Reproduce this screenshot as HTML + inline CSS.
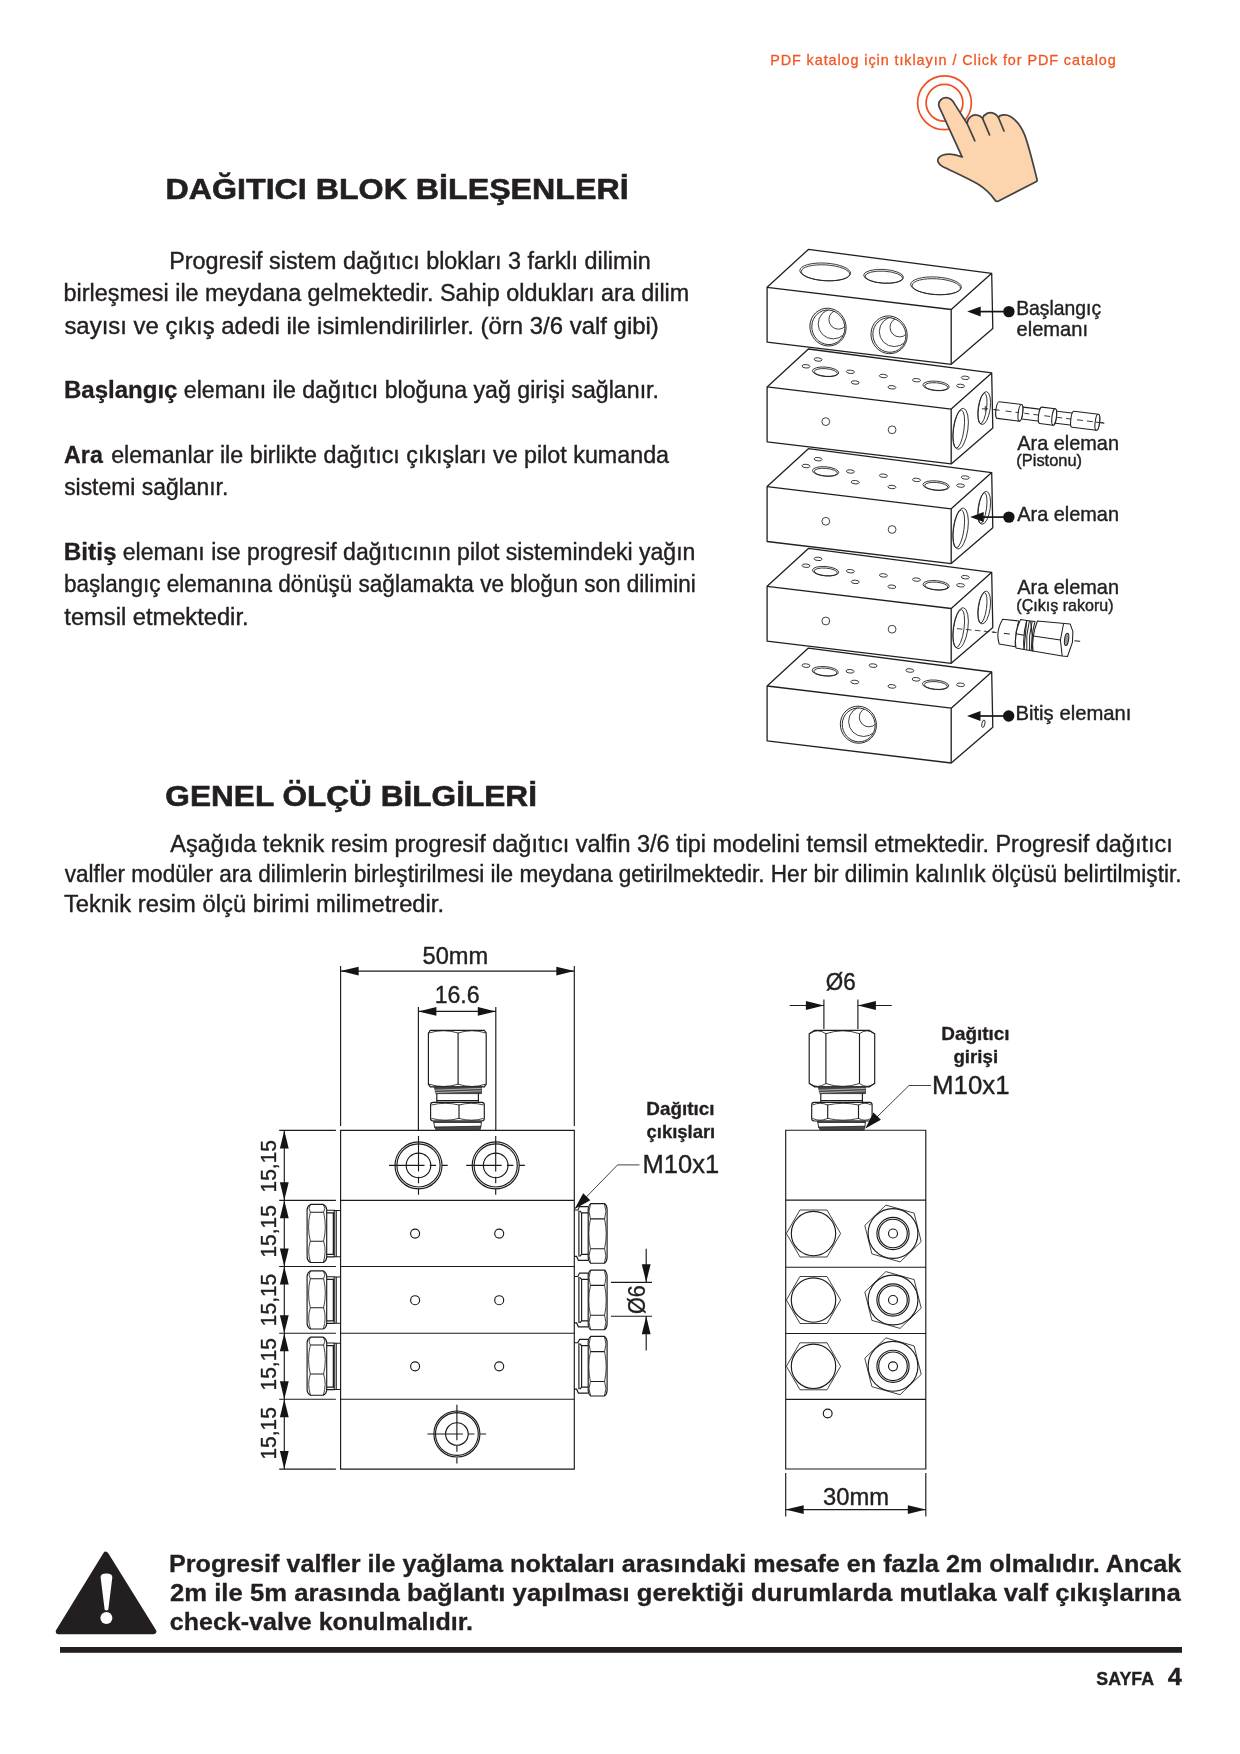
<!DOCTYPE html>
<html lang="tr"><head><meta charset="utf-8"><title>Dağıtıcı Blok Bileşenleri</title>
<style>
html,body{margin:0;padding:0;background:#fff}
body{width:1240px;height:1754px;overflow:hidden;font-family:"Liberation Sans",sans-serif}
svg{display:block;will-change:transform}
svg text{font-family:"Liberation Sans",sans-serif;white-space:pre}
.l{fill:none;stroke:#1c1a1b;stroke-width:1.15}
.m{fill:none;stroke:#231f20;stroke-width:1.3;stroke-linejoin:round}
.t{fill:none;stroke:#231f20;stroke-width:.85}
.w{fill:#fff;stroke:#231f20;stroke-width:1.3;stroke-linejoin:round}
.k{fill:#161314;stroke:none}
</style></head><body>
<svg width="1240" height="1754" viewBox="0 0 1240 1754">
<rect width="1240" height="1754" fill="#fff"/>
<!-- top link text -->
<text x="770.15" y="64.50" font-size="14.4" fill="#f15623" letter-spacing="0.919" stroke="#f15623" stroke-width=".3">PDF katalog için tıklayın / Click for PDF catalog</text>
<!-- headings -->
<text transform="translate(165.51 199.30) scale(1.0593 1)" font-size="30.4" font-weight="700" fill="#231f20" stroke="#231f20" stroke-width=".6">DAĞITICI BLOK BİLEŞENLERİ</text>
<text transform="translate(165.34 806.40) scale(1.0398 1)" font-size="30.4" font-weight="700" fill="#231f20" stroke="#231f20" stroke-width=".6">GENEL ÖLÇÜ BİLGİLERİ</text>
<!-- body paragraph 1 -->
<text transform="translate(169.13 268.60) scale(0.9615 1)" font-size="24.3" fill="#231f20" stroke="#231f20" stroke-width="0.4">Progresif sistem dağıtıcı blokları 3 farklı dilimin</text>
<text transform="translate(63.60 301.20) scale(0.9613 1)" font-size="24.3" fill="#231f20" stroke="#231f20" stroke-width="0.4">birleşmesi ile meydana gelmektedir. Sahip oldukları ara dilim</text>
<text transform="translate(64.40 333.80) scale(0.9851 1)" font-size="24.3" fill="#231f20" stroke="#231f20" stroke-width="0.4">sayısı ve çıkış adedi ile isimlendirilirler. (örn 3/6 valf gibi)</text>
<text transform="translate(63.94 398.20) scale(0.9900 1)" font-size="24.3" font-weight="700" fill="#231f20" stroke="#231f20" stroke-width="0.3">Başlangıç</text>
<text transform="translate(183.77 398.20) scale(0.9537 1)" font-size="24.3" fill="#231f20" stroke="#231f20" stroke-width="0.4">elemanı ile dağıtıcı bloğuna yağ girişi sağlanır.</text>
<text transform="translate(64.12 463.00) scale(0.9552 1)" font-size="24.3" font-weight="700" fill="#231f20" stroke="#231f20" stroke-width="0.3">Ara</text>
<text transform="translate(111.17 463.00) scale(0.9586 1)" font-size="24.3" fill="#231f20" stroke="#231f20" stroke-width="0.4">elemanlar ile birlikte dağıtıcı çıkışları ve pilot kumanda</text>
<text transform="translate(64.13 495.40) scale(0.9426 1)" font-size="24.3" fill="#231f20" stroke="#231f20" stroke-width="0.4">sistemi sağlanır.</text>
<text transform="translate(63.72 560.00) scale(1.0024 1)" font-size="24.3" font-weight="700" fill="#231f20" stroke="#231f20" stroke-width="0.3">Bitiş</text>
<text transform="translate(122.78 560.00) scale(0.9491 1)" font-size="24.3" fill="#231f20" stroke="#231f20" stroke-width="0.4">elemanı ise progresif dağıtıcının pilot sistemindeki yağın</text>
<text transform="translate(63.95 592.30) scale(0.9282 1)" font-size="24.3" fill="#231f20" stroke="#231f20" stroke-width="0.4">başlangıç elemanına dönüşü sağlamakta ve bloğun son dilimini</text>
<text transform="translate(64.34 624.80) scale(0.9747 1)" font-size="24.3" fill="#231f20" stroke="#231f20" stroke-width="0.4">temsil etmektedir.</text>
<!-- body paragraph 2 -->
<text transform="translate(170.30 852.40) scale(0.9619 1)" font-size="24.4" fill="#231f20" stroke="#231f20" stroke-width="0.4">Aşağıda teknik resim progresif dağıtıcı valfin 3/6 tipi modelini temsil etmektedir. Progresif dağıtıcı</text>
<text transform="translate(64.70 881.90) scale(0.9268 1)" font-size="24.4" fill="#231f20" stroke="#231f20" stroke-width="0.4">valfler modüler ara dilimlerin birleştirilmesi ile meydana getirilmektedir. Her bir dilimin kalınlık ölçüsü belirtilmiştir.</text>
<text transform="translate(63.92 911.80) scale(0.9736 1)" font-size="24.4" fill="#231f20" stroke="#231f20" stroke-width="0.4">Teknik resim ölçü birimi milimetredir.</text>
<!-- exploded view labels -->
<text transform="translate(1016.15 315.10) scale(0.9437 1)" font-size="20.5" fill="#231f20" stroke="#231f20" stroke-width="0.4">Başlangıç</text>
<text transform="translate(1016.50 335.80) scale(0.9813 1)" font-size="20.5" fill="#231f20" stroke="#231f20" stroke-width="0.4">elemanı</text>
<text transform="translate(1017.30 449.80) scale(0.9708 1)" font-size="20.5" fill="#231f20" stroke="#231f20" stroke-width="0.4">Ara eleman</text>
<text transform="translate(1016.31 466.10) scale(1.0153 1)" font-size="16.2" fill="#231f20" stroke="#231f20" stroke-width="0.4">(Pistonu)</text>
<text transform="translate(1017.30 521.00) scale(0.9708 1)" font-size="20.5" fill="#231f20" stroke="#231f20" stroke-width="0.4">Ara eleman</text>
<text transform="translate(1017.30 593.90) scale(0.9708 1)" font-size="20.5" fill="#231f20" stroke="#231f20" stroke-width="0.4">Ara eleman</text>
<text transform="translate(1016.34 611.40) scale(0.9924 1)" font-size="16.2" fill="#231f20" stroke="#231f20" stroke-width="0.4">(Çıkış rakoru)</text>
<text transform="translate(1015.48 720.00) scale(0.9888 1)" font-size="20.5" fill="#231f20" stroke="#231f20" stroke-width="0.4">Bitiş elemanı</text>
<!-- dimension texts -->
<text transform="translate(422.55 964.00) scale(0.9778 1)" font-size="24.2" fill="#231f20" stroke="#231f20" stroke-width="0.4">50mm</text>
<text transform="translate(434.67 1002.60) scale(0.9552 1)" font-size="24.2" fill="#231f20" stroke="#231f20" stroke-width="0.4">16.6</text>
<text transform="translate(825.71 989.70) scale(0.9281 1)" font-size="24.2" fill="#231f20" stroke="#231f20" stroke-width="0.4">Ø6</text>
<text transform="translate(823.07 1504.60) scale(0.9822 1)" font-size="24.2" fill="#231f20" stroke="#231f20" stroke-width="0.4">30mm</text>
<text transform="translate(642.56 1173.00) scale(0.9598 1)" font-size="26.6" fill="#231f20" stroke="#231f20" stroke-width="0.4">M10x1</text>
<text transform="translate(932.03 1093.70) scale(0.9716 1)" font-size="26.6" fill="#231f20" stroke="#231f20" stroke-width="0.4">M10x1</text>
<text transform="translate(646.37 1114.80) scale(1.0772 1)" font-size="17.5" font-weight="700" fill="#231f20" stroke="#231f20" stroke-width="0.3">Dağıtıcı</text>
<text transform="translate(646.55 1138.30) scale(1.0545 1)" font-size="17.5" font-weight="700" fill="#231f20" stroke="#231f20" stroke-width="0.3">çıkışları</text>
<text transform="translate(941.37 1039.50) scale(1.0805 1)" font-size="17.5" font-weight="700" fill="#231f20" stroke="#231f20" stroke-width="0.3">Dağıtıcı</text>
<text transform="translate(953.45 1062.80) scale(1.0677 1)" font-size="17.5" font-weight="700" fill="#231f20" stroke="#231f20" stroke-width="0.3">girişi</text>
<text transform="translate(276.40 1192.47) rotate(-90) scale(0.9529 1)" font-size="22.0" fill="#231f20" stroke="#231f20" stroke-width=".35">15,15</text>
<text transform="translate(276.40 1257.57) rotate(-90) scale(0.9529 1)" font-size="22.0" fill="#231f20" stroke="#231f20" stroke-width=".35">15,15</text>
<text transform="translate(276.40 1326.17) rotate(-90) scale(0.9529 1)" font-size="22.0" fill="#231f20" stroke="#231f20" stroke-width=".35">15,15</text>
<text transform="translate(276.40 1390.47) rotate(-90) scale(0.9529 1)" font-size="22.0" fill="#231f20" stroke="#231f20" stroke-width=".35">15,15</text>
<text transform="translate(276.40 1459.57) rotate(-90) scale(0.9529 1)" font-size="22.0" fill="#231f20" stroke="#231f20" stroke-width=".35">15,15</text>
<text transform="translate(645.20 1314.00) rotate(-90) scale(0.8888 1)" font-size="24.2" fill="#231f20" stroke="#231f20" stroke-width=".35">Ø6</text>
<!-- warning -->
<text transform="translate(169.06 1571.70) scale(1.0352 1)" font-size="24.3" font-weight="700" fill="#231f20" stroke="#231f20" stroke-width=".3">Progresif valfler ile yağlama noktaları arasındaki mesafe en fazla 2m olmalıdır. Ancak</text>
<text transform="translate(169.93 1601.00) scale(1.0577 1)" font-size="24.3" font-weight="700" fill="#231f20" stroke="#231f20" stroke-width=".3">2m ile 5m arasında bağlantı yapılması gerektiği durumlarda mutlaka valf çıkışlarına</text>
<text transform="translate(169.82 1630.20) scale(1.0306 1)" font-size="24.3" font-weight="700" fill="#231f20" stroke="#231f20" stroke-width=".3">check-valve konulmalıdır.</text>
<text transform="translate(1096.35 1685.20) scale(1.0177 1)" font-size="17.5" font-weight="700" fill="#231f20" stroke="#231f20" stroke-width=".35">SAYFA</text>
<text transform="translate(1167.82 1685.20) scale(1.0750 1)" font-size="23.6" font-weight="700" fill="#231f20" stroke="#231f20" stroke-width=".35">4</text>
<rect x="60" y="1647" width="1122" height="5.8" fill="#231f20"/>
<path d="M105.8 1554.5 L153.6 1631.5 L58.5 1631.5 Z" fill="#231f20" stroke="#231f20" stroke-width="5.5" stroke-linejoin="round"/>
<path d="M100.6 1577.5 Q100.3 1573.4 106.4 1573.4 Q112.6 1573.4 112.3 1577.5 L108.3 1609.5 Q106.4 1611.5 104.6 1609.5 Z" fill="#fff"/>
<circle cx="106.4" cy="1618" r="6" fill="#fff"/>
<!-- exploded isometric view -->
<g transform="translate(767.1 287.3)">
<path class="w" d="M41.3 -37.9 L224.6 -14.0 L225.7 41.2 L184.1 77.0 L0.0 54.9 L0 0 Z"/>
<path class="m" d="M0 0 L184.1 22.2 L224.6 -14.0 M184.1 22.2 L184.1 77.0"/>
<ellipse class="t" cx="58.1" cy="-15.4" rx="25.4" ry="8.8" transform="rotate(3.5 58.1 -15.4)"/>
<ellipse class="t" cx="58.4" cy="-14.5" rx="24.2" ry="7.9" transform="rotate(3.5 58.4 -14.5)"/>
<ellipse class="t" cx="116.5" cy="-11.0" rx="20" ry="6.9" transform="rotate(3.5 116.5 -11.0)"/>
<ellipse class="t" cx="116.8" cy="-10.1" rx="18.8" ry="6.0" transform="rotate(3.5 116.8 -10.1)"/>
<ellipse class="t" cx="168.9" cy="-1.5" rx="25.4" ry="8.8" transform="rotate(3.5 168.9 -1.5)"/>
<ellipse class="t" cx="169.2" cy="-0.6" rx="24.2" ry="7.9" transform="rotate(3.5 169.2 -0.6)"/>
<clipPath id="cb1"><ellipse cx="60.9" cy="39.8" rx="16.4" ry="17.4" transform="rotate(-20 60.9 39.8)"/></clipPath>
<ellipse class="t" cx="60.9" cy="39.8" rx="18" ry="19" transform="rotate(-20 60.9 39.8)"/>
<ellipse class="t" cx="61.2" cy="40.0" rx="16.4" ry="17.4" transform="rotate(-20 61.2 40.0)"/>
<g clip-path="url(#cb1)"><circle class="t" cx="66.1" cy="36.6" r="15"/><circle class="t" cx="71.4" cy="32.3" r="9.6"/></g>
<clipPath id="cb2"><ellipse cx="122.0" cy="47.5" rx="16.4" ry="17.4" transform="rotate(-20 122.0 47.5)"/></clipPath>
<ellipse class="t" cx="122.0" cy="47.5" rx="18" ry="19" transform="rotate(-20 122.0 47.5)"/>
<ellipse class="t" cx="122.3" cy="47.7" rx="16.4" ry="17.4" transform="rotate(-20 122.3 47.7)"/>
<g clip-path="url(#cb2)"><circle class="t" cx="127.2" cy="44.3" r="15"/><circle class="t" cx="132.5" cy="40.0" r="9.6"/></g>
</g>
<g transform="translate(767.1 386.9)">
<path class="w" d="M41.3 -37.9 L224.6 -14.0 L225.7 41.2 L184.1 77.0 L0.0 54.9 L0 0 Z"/>
<path class="m" d="M0 0 L184.1 22.2 L224.6 -14.0 M184.1 22.2 L184.1 77.0"/>
<ellipse class="t" cx="51.0" cy="-27.4" rx="4.0" ry="1.7" transform="rotate(5 51.0 -27.4)"/>
<ellipse class="t" cx="38.9" cy="-20.6" rx="4.0" ry="1.7" transform="rotate(5 38.9 -20.6)"/>
<ellipse class="t" cx="83.3" cy="-15.1" rx="4.0" ry="1.7" transform="rotate(5 83.3 -15.1)"/>
<ellipse class="t" cx="88.1" cy="-4.4" rx="4.0" ry="1.7" transform="rotate(5 88.1 -4.4)"/>
<ellipse class="t" cx="116.3" cy="-10.9" rx="4.0" ry="1.7" transform="rotate(5 116.3 -10.9)"/>
<ellipse class="t" cx="124.8" cy="0.4" rx="4.0" ry="1.7" transform="rotate(5 124.8 0.4)"/>
<ellipse class="t" cx="149.4" cy="-6.7" rx="4.0" ry="1.7" transform="rotate(5 149.4 -6.7)"/>
<ellipse class="t" cx="198.2" cy="-9.1" rx="4.0" ry="1.7" transform="rotate(5 198.2 -9.1)"/>
<ellipse class="t" cx="193.5" cy="-1.0" rx="4.0" ry="1.7" transform="rotate(5 193.5 -1.0)"/>
<ellipse class="t" cx="58.5" cy="-15.1" rx="13.2" ry="4.7" transform="rotate(5 58.5 -15.1)"/>
<ellipse class="t" cx="58.7" cy="-14.4" rx="11.6" ry="3.8" transform="rotate(5 58.7 -14.4)"/>
<ellipse class="t" cx="169.0" cy="-1.0" rx="13.2" ry="4.7" transform="rotate(5 169.0 -1.0)"/>
<ellipse class="t" cx="169.2" cy="-0.3" rx="11.6" ry="3.8" transform="rotate(5 169.2 -0.3)"/>
<circle class="t" cx="58.7" cy="34.7" r="3.9"/><circle class="t" cx="125" cy="42.9" r="3.9"/>
<ellipse class="t" cx="193.5" cy="41.9" rx="7.3" ry="20.6" transform="rotate(8 193.5 41.9)"/>
<ellipse class="t" cx="191.7" cy="42.3" rx="5.2" ry="19.2" transform="rotate(8 191.7 42.3)"/>
<ellipse class="t" cx="217.1" cy="21.2" rx="6.0" ry="16.6" transform="rotate(8 217.1 21.2)"/>
<ellipse class="t" cx="215.4" cy="21.6" rx="4.0" ry="15.4" transform="rotate(8 215.4 21.6)"/>
<path class="t" d="M214.8 21.9 H221 M218.2 19.2 V24.4"/>
</g>
<g transform="translate(767.1 486.6)">
<path class="w" d="M41.3 -37.9 L224.6 -14.0 L225.7 41.2 L184.1 77.0 L0.0 54.9 L0 0 Z"/>
<path class="m" d="M0 0 L184.1 22.2 L224.6 -14.0 M184.1 22.2 L184.1 77.0"/>
<ellipse class="t" cx="51.0" cy="-27.4" rx="4.0" ry="1.7" transform="rotate(5 51.0 -27.4)"/>
<ellipse class="t" cx="38.9" cy="-20.6" rx="4.0" ry="1.7" transform="rotate(5 38.9 -20.6)"/>
<ellipse class="t" cx="83.3" cy="-15.1" rx="4.0" ry="1.7" transform="rotate(5 83.3 -15.1)"/>
<ellipse class="t" cx="88.1" cy="-4.4" rx="4.0" ry="1.7" transform="rotate(5 88.1 -4.4)"/>
<ellipse class="t" cx="116.3" cy="-10.9" rx="4.0" ry="1.7" transform="rotate(5 116.3 -10.9)"/>
<ellipse class="t" cx="124.8" cy="0.4" rx="4.0" ry="1.7" transform="rotate(5 124.8 0.4)"/>
<ellipse class="t" cx="149.4" cy="-6.7" rx="4.0" ry="1.7" transform="rotate(5 149.4 -6.7)"/>
<ellipse class="t" cx="198.2" cy="-9.1" rx="4.0" ry="1.7" transform="rotate(5 198.2 -9.1)"/>
<ellipse class="t" cx="193.5" cy="-1.0" rx="4.0" ry="1.7" transform="rotate(5 193.5 -1.0)"/>
<ellipse class="t" cx="58.5" cy="-15.1" rx="13.2" ry="4.7" transform="rotate(5 58.5 -15.1)"/>
<ellipse class="t" cx="58.7" cy="-14.4" rx="11.6" ry="3.8" transform="rotate(5 58.7 -14.4)"/>
<ellipse class="t" cx="169.0" cy="-1.0" rx="13.2" ry="4.7" transform="rotate(5 169.0 -1.0)"/>
<ellipse class="t" cx="169.2" cy="-0.3" rx="11.6" ry="3.8" transform="rotate(5 169.2 -0.3)"/>
<circle class="t" cx="58.7" cy="34.7" r="3.9"/><circle class="t" cx="125" cy="42.9" r="3.9"/>
<ellipse class="t" cx="193.5" cy="41.9" rx="7.3" ry="20.6" transform="rotate(8 193.5 41.9)"/>
<ellipse class="t" cx="191.7" cy="42.3" rx="5.2" ry="19.2" transform="rotate(8 191.7 42.3)"/>
<ellipse class="t" cx="217.1" cy="21.2" rx="6.0" ry="16.6" transform="rotate(8 217.1 21.2)"/>
<ellipse class="t" cx="215.4" cy="21.6" rx="4.0" ry="15.4" transform="rotate(8 215.4 21.6)"/>
</g>
<g transform="translate(767.1 586.3)">
<path class="w" d="M41.3 -37.9 L224.6 -14.0 L225.7 41.2 L184.1 77.0 L0.0 54.9 L0 0 Z"/>
<path class="m" d="M0 0 L184.1 22.2 L224.6 -14.0 M184.1 22.2 L184.1 77.0"/>
<ellipse class="t" cx="51.0" cy="-27.4" rx="4.0" ry="1.7" transform="rotate(5 51.0 -27.4)"/>
<ellipse class="t" cx="38.9" cy="-20.6" rx="4.0" ry="1.7" transform="rotate(5 38.9 -20.6)"/>
<ellipse class="t" cx="83.3" cy="-15.1" rx="4.0" ry="1.7" transform="rotate(5 83.3 -15.1)"/>
<ellipse class="t" cx="88.1" cy="-4.4" rx="4.0" ry="1.7" transform="rotate(5 88.1 -4.4)"/>
<ellipse class="t" cx="116.3" cy="-10.9" rx="4.0" ry="1.7" transform="rotate(5 116.3 -10.9)"/>
<ellipse class="t" cx="124.8" cy="0.4" rx="4.0" ry="1.7" transform="rotate(5 124.8 0.4)"/>
<ellipse class="t" cx="149.4" cy="-6.7" rx="4.0" ry="1.7" transform="rotate(5 149.4 -6.7)"/>
<ellipse class="t" cx="198.2" cy="-9.1" rx="4.0" ry="1.7" transform="rotate(5 198.2 -9.1)"/>
<ellipse class="t" cx="193.5" cy="-1.0" rx="4.0" ry="1.7" transform="rotate(5 193.5 -1.0)"/>
<ellipse class="t" cx="58.5" cy="-15.1" rx="13.2" ry="4.7" transform="rotate(5 58.5 -15.1)"/>
<ellipse class="t" cx="58.7" cy="-14.4" rx="11.6" ry="3.8" transform="rotate(5 58.7 -14.4)"/>
<ellipse class="t" cx="169.0" cy="-1.0" rx="13.2" ry="4.7" transform="rotate(5 169.0 -1.0)"/>
<ellipse class="t" cx="169.2" cy="-0.3" rx="11.6" ry="3.8" transform="rotate(5 169.2 -0.3)"/>
<circle class="t" cx="58.7" cy="34.7" r="3.9"/><circle class="t" cx="125" cy="42.9" r="3.9"/>
<ellipse class="t" cx="193.5" cy="41.9" rx="7.3" ry="20.6" transform="rotate(8 193.5 41.9)"/>
<ellipse class="t" cx="191.7" cy="42.3" rx="5.2" ry="19.2" transform="rotate(8 191.7 42.3)"/>
<ellipse class="t" cx="217.1" cy="21.2" rx="6.0" ry="16.6" transform="rotate(8 217.1 21.2)"/>
<ellipse class="t" cx="215.4" cy="21.6" rx="4.0" ry="15.4" transform="rotate(8 215.4 21.6)"/>
</g>
<g transform="translate(767.1 686.0)">
<path class="w" d="M41.3 -37.9 L224.6 -14.0 L225.7 41.2 L184.1 77.0 L0.0 54.9 L0 0 Z"/>
<path class="m" d="M0 0 L184.1 22.2 L224.6 -14.0 M184.1 22.2 L184.1 77.0"/>
<ellipse class="t" cx="38.9" cy="-20.4" rx="4.0" ry="1.8" transform="rotate(5 38.9 -20.4)"/>
<ellipse class="t" cx="82.9" cy="-14.7" rx="4.0" ry="1.8" transform="rotate(5 82.9 -14.7)"/>
<ellipse class="t" cx="87.7" cy="-4.0" rx="4.0" ry="1.8" transform="rotate(5 87.7 -4.0)"/>
<ellipse class="t" cx="106.0" cy="-20.4" rx="4.0" ry="1.8" transform="rotate(5 106.0 -20.4)"/>
<ellipse class="t" cx="124.8" cy="0.4" rx="4.0" ry="1.8" transform="rotate(5 124.8 0.4)"/>
<ellipse class="t" cx="142.7" cy="-15.5" rx="4.0" ry="1.8" transform="rotate(5 142.7 -15.5)"/>
<ellipse class="t" cx="149.0" cy="-6.7" rx="4.0" ry="1.8" transform="rotate(5 149.0 -6.7)"/>
<ellipse class="t" cx="193.5" cy="-1.2" rx="4.0" ry="1.8" transform="rotate(5 193.5 -1.2)"/>
<ellipse class="t" cx="58.1" cy="-14.7" rx="13.2" ry="4.7" transform="rotate(5 58.1 -14.7)"/>
<ellipse class="t" cx="58.3" cy="-14.0" rx="11.6" ry="3.8" transform="rotate(5 58.3 -14.0)"/>
<ellipse class="t" cx="168.5" cy="-1.2" rx="13.2" ry="4.7" transform="rotate(5 168.5 -1.2)"/>
<ellipse class="t" cx="168.7" cy="-0.5" rx="11.6" ry="3.8" transform="rotate(5 168.7 -0.5)"/>
<clipPath id="cb3"><ellipse cx="91.3" cy="38.7" rx="16.4" ry="17.0" transform="rotate(-20 91.3 38.7)"/></clipPath>
<ellipse class="t" cx="91.3" cy="38.7" rx="18" ry="18.6" transform="rotate(-20 91.3 38.7)"/>
<ellipse class="t" cx="91.6" cy="38.9" rx="16.4" ry="17.0" transform="rotate(-20 91.6 38.9)"/>
<g clip-path="url(#cb3)"><circle class="t" cx="96.5" cy="35.5" r="15"/><circle class="t" cx="101.8" cy="31.2" r="9.6"/></g>
<ellipse class="t" cx="216.3" cy="37.7" rx="1.5" ry="3.8" transform="rotate(12 216.3 37.7)"/>
</g>
<path d="M967.2 311.6 l13.5 -5 v10 Z" class="k"/><path d="M977.2 311.6 H1008.9" stroke="#161314" stroke-width="1.7" fill="none"/><circle cx="1008.9" cy="311.6" r="5.7" class="k"/>
<path d="M970.2 517.1 l13.5 -5 v10 Z" class="k"/><path d="M980.2 517.1 H1008.9" stroke="#161314" stroke-width="1.7" fill="none"/><circle cx="1008.9" cy="517.1" r="5.7" class="k"/>
<path d="M967.0 716.0 l13.5 -5 v10 Z" class="k"/><path d="M977.0 716.0 H1008.7" stroke="#161314" stroke-width="1.7" fill="none"/><circle cx="1008.7" cy="716.0" r="5.7" class="k"/>
<!-- piston -->
<g transform="translate(996.6 409.9) rotate(7)" style="stroke-width:1.1">
<path class="t" d="M-3 0 H110" stroke-dasharray="5 3.2"/>
<path class="t" style="fill:#fff;stroke-width:1.1" d="M24 -6 H44.5 A1.7 6 0 0 1 44.5 6 H24 A1.7 6 0 0 1 24 -6 Z"/>
<path class="t" style="fill:#fff;stroke-width:1.1" d="M58 -6 H77 A1.7 6 0 0 1 77 6 H58 A1.7 6 0 0 1 58 -6 Z"/>
<path class="t" style="fill:#fff;stroke-width:1.1" d="M1.5 -8.4 H24 A2.2 8.4 0 0 1 24 8.4 H1.5 A2.2 8.4 0 0 1 1.5 -8.4 Z"/>
<ellipse class="t" style="fill:#fff;stroke-width:1.1" cx="24" cy="0" rx="2.2" ry="8.4"/>
<path class="t" style="fill:#fff;stroke-width:1.1" d="M44.5 -8.3 H58 A2.2 8.3 0 0 1 58 8.3 H44.5 A2.2 8.3 0 0 1 44.5 -8.3 Z"/>
<ellipse class="t" style="fill:#fff;stroke-width:1.1" cx="58" cy="0" rx="2.2" ry="8.3"/>
<path class="t" style="fill:#fff;stroke-width:1.1" d="M77 -8.1 H101.5 A2.2 8.1 0 0 1 101.5 8.1 H77 A2.2 8.1 0 0 1 77 -8.1 Z"/>
<ellipse class="t" style="fill:#fff;stroke-width:1.1" cx="101.5" cy="0" rx="2.2" ry="8.1"/>
<path class="t" d="M-3 0 H3 M9 0 H15 M19 0 H22 M28 0 H33 M37 0 H42 M48 0 H54 M61 0 H66 M70 0 H75 M81 0 H87 M91 0 H97 M100 0 H108"/>
</g>
<!-- outlet fitting -->
<path class="t" d="M957 628.6 L994.5 632.2" stroke-dasharray="5.5 3.5"/>
<g fill="#fff" stroke="#231f20" stroke-width="1.05" stroke-linejoin="round">
<path d="M1037.4 621 L1070.2 624.1 L1072.9 631.6 L1072.4 642.3 L1067.5 656.5 L1062.2 656 L1032.9 651.1 Q1031.6 636 1037.4 621 Z"/>
<path d="M1063.6 623.5 L1060.4 640 L1062.2 656 M1033.2 636.1 L1060.4 640" fill="none"/>
<ellipse cx="1066.6" cy="639.4" rx="2" ry="6.2" transform="rotate(8 1066.6 639.4)" fill="#999"/>
<path d="M1026.7 620.5 L1035 621.6 Q1030.6 636.5 1032.9 651.1 L1024 649.4 Z"/>
<path d="M1029.4 620.9 Q1025.6 635.5 1026.8 649.9 M1032.2 621.3 Q1028.3 636 1029.6 650.4 M1030.6 621.2 Q1033.6 636 1031.2 650.8" fill="none" stroke-width="1"/>
<path d="M1020.5 619.6 L1026.7 620.5 Q1022.6 635 1024 649.4 L1016 648 Q1013.8 634 1020.5 619.6 Z"/>
<path d="M1016 633.8 L1024 635.2" fill="none"/>
<path d="M1002.7 619.2 L1018.9 621 Q1014.4 634 1015.4 646.7 L999.2 644 Q995.2 631.5 1002.7 619.2 Z"/>
</g>
<path class="t" d="M991.8 632 L996.6 632.5 M1004 633.4 L1009.8 634 M1074.4 640.8 L1080.2 641.3" style="stroke-width:1"/>
<!-- click hand -->
<circle cx="944.5" cy="102.8" r="26.9" fill="none" stroke="#f04e23" stroke-width="1.7"/>
<circle cx="944.5" cy="102.8" r="18.4" fill="none" stroke="#f04e23" stroke-width="1.7"/>
<g transform="translate(900 60) scale(.12903)">
<path d="M303 362 C290 322 325 288 362 292 C392 296 410 316 424 342 L520 492 C522 452 560 418 600 428 C618 432 632 442 640 452 C648 420 690 400 722 412 C742 418 754 430 762 444 C776 424 820 418 856 438 C904 466 942 520 966 580 C1000 670 1030 800 1062 926 C1064 934 1062 940 1054 944 L760 1094 C752 1098 744 1096 738 1088 C700 1036 660 996 600 960 C520 914 420 870 330 826 C296 808 284 776 300 758 C316 740 350 730 384 730 C420 730 452 740 482 752 Z" fill="#fcd5ae" stroke="#434343" stroke-width="13.5" stroke-linejoin="round"/>
<path d="M520 492 L580 626 M640 452 L694 580 M762 444 L806 550" fill="none" stroke="#434343" stroke-width="13.5" stroke-linecap="round"/>
</g>
<!-- front view -->
<path class="l" d="M340.6 1130.4 H574.3 V1469.1 H340.6 Z M340.6 1200.3 H574.3 M340.6 1266.5 H574.3 M340.6 1333.2 H574.3 M340.6 1399.2 H574.3"/>
<path class="l" d="M340.6 966 V1126 M574.3 966 V1126 M340.6 971.1 H574.3"/>
<path class="k" d="M340.6 971.1 L358.6 966.7 L358.6 975.5 Z"/>
<path class="k" d="M574.3 971.1 L556.3 975.5 L556.3 966.7 Z"/>
<path class="l" d="M418.4 1007 V1131 M495.8 1007 V1131 M418.4 1011.4 H495.8"/>
<path class="k" d="M418.4 1011.4 L436.4 1007.0 L436.4 1015.8 Z"/>
<path class="k" d="M495.8 1011.4 L477.8 1015.8 L477.8 1007.0 Z"/>
<path class="l" d="M284.3 1130.4 V1469.1 M279.2 1130.4 H335.9 M279.2 1200.3 H335.9 M279.2 1266.5 H335.9 M279.2 1333.2 H335.9 M279.2 1399.2 H335.9 M279.2 1469.1 H335.9"/>
<path class="k" d="M284.3 1130.4 L288.7 1148.4 L279.9 1148.4 Z"/>
<path class="k" d="M284.3 1200.3 L279.9 1182.3 L288.7 1182.3 Z"/>
<path class="k" d="M284.3 1200.3 L288.7 1218.3 L279.9 1218.3 Z"/>
<path class="k" d="M284.3 1266.5 L279.9 1248.5 L288.7 1248.5 Z"/>
<path class="k" d="M284.3 1266.5 L288.7 1284.5 L279.9 1284.5 Z"/>
<path class="k" d="M284.3 1333.2 L279.9 1315.2 L288.7 1315.2 Z"/>
<path class="k" d="M284.3 1333.2 L288.7 1351.2 L279.9 1351.2 Z"/>
<path class="k" d="M284.3 1399.2 L279.9 1381.2 L288.7 1381.2 Z"/>
<path class="k" d="M284.3 1399.2 L288.7 1417.2 L279.9 1417.2 Z"/>
<path class="k" d="M284.3 1469.1 L279.9 1451.1 L288.7 1451.1 Z"/>
<circle class="l" cx="418.5" cy="1165.4" r="23.5"/><circle class="l" cx="418.5" cy="1165.4" r="21.6"/><circle class="l" cx="418.5" cy="1165.4" r="12.3"/>
<path class="l" d="M389.0 1165.4 H424.5 M429.7 1165.4 H436.1 M441.9 1165.4 H447.7 M418.5 1136.1000000000001 V1171.6000000000001 M418.5 1176.8000000000002 V1183.2 M418.5 1189.0 V1194.8000000000002"/>
<circle class="l" cx="495.7" cy="1165.4" r="23.5"/><circle class="l" cx="495.7" cy="1165.4" r="21.6"/><circle class="l" cx="495.7" cy="1165.4" r="12.3"/>
<path class="l" d="M466.2 1165.4 H501.7 M506.9 1165.4 H513.3 M519.1 1165.4 H524.9 M495.7 1136.1000000000001 V1171.6000000000001 M495.7 1176.8000000000002 V1183.2 M495.7 1189.0 V1194.8000000000002"/>
<circle class="l" cx="456.9" cy="1434.0" r="23.0"/><circle class="l" cx="456.9" cy="1434.0" r="21.4"/><circle class="l" cx="456.9" cy="1434.0" r="11.3"/>
<path class="l" d="M427.4 1434.0 H462.9 M468.09999999999997 1434.0 H474.5 M480.29999999999995 1434.0 H486.09999999999997 M456.9 1404.7 V1440.2 M456.9 1445.4 V1451.8 M456.9 1457.6 V1463.4"/>
<circle class="l" cx="415.1" cy="1233.6" r="4.5"/><circle class="l" cx="499.2" cy="1233.6" r="4.5"/>
<circle class="l" cx="415.1" cy="1300.2" r="4.5"/><circle class="l" cx="499.2" cy="1300.2" r="4.5"/>
<circle class="l" cx="415.1" cy="1366.3" r="4.5"/><circle class="l" cx="499.2" cy="1366.3" r="4.5"/>
<g transform="translate(0 1233.4)">
<path class="l" d="M307.1 -24 Q307.4 -27.5 310.5 -29 H323.3 Q326.4 -27.5 326.7 -24 V24 Q326.4 27.6 323.3 29.1 H310.5 Q307.4 27.6 307.1 24 Z" style="fill:#fff"/>
<path class="l" d="M310.3 -21.2 H323.6 M310.3 7.8 H323.6"/>
<path class="t" d="M310.3 -21.2 Q307.6 -25 310.5 -29 M323.6 -21.2 Q326.2 -25 323.3 -29 M310.3 -21.2 Q306.8 -6.7 310.3 7.8 M323.6 -21.2 Q327 -6.7 323.6 7.8 M310.3 7.8 Q307 18 310.5 29.1 M323.6 7.8 Q326.8 18 323.3 29.1"/>
<path class="l" d="M326.7 -23.2 H334.2 V23.5 H326.7 M326.9 -20.5 H333.3 V20.9 H326.9 M334.2 -22.9 H340.5 M334.2 23.3 H340.5 M336.2 -22.9 V23.3"/>
</g>
<g transform="translate(0 1233.4)">
<path class="l" d="M588.2 -24.8 Q588.5 -28.3 590.6 -29.8 H604.4 Q606.8 -28.3 607.1 -24.3 V24.3 Q606.8 28.3 604.4 29.8 H590.6 Q588.5 28.3 588.2 24.8 Z" style="fill:#fff"/>
<path class="l" d="M590.4 -14.5 H604.6 M590.4 15.3 H604.6"/>
<path class="t" d="M590.4 -14.5 Q587.6 -22 590.6 -29.8 M604.6 -14.5 Q607.4 -22 604.4 -29.8 M590.4 -14.5 Q587.2 0.4 590.4 15.3 M604.6 -14.5 Q607.8 0.4 604.6 15.3 M590.4 15.3 Q587.6 22.5 590.6 29.8 M604.6 15.3 Q607.4 22.5 604.4 29.8"/>
<path class="l" d="M574.3 -23.4 H577.8 L579.6 -26.8 H588.2 M574.3 23 H576.6 L578.4 26.9 H588.2 M578.9 -23 V23 M581.6 -20.5 V20.9 M579.8 -22.5 L581.6 -20.5 H588.2 M579.8 23 L581.6 20.9 H588.2"/>
</g>
<g transform="translate(0 1299.9)">
<path class="l" d="M307.1 -24 Q307.4 -27.5 310.5 -29 H323.3 Q326.4 -27.5 326.7 -24 V24 Q326.4 27.6 323.3 29.1 H310.5 Q307.4 27.6 307.1 24 Z" style="fill:#fff"/>
<path class="l" d="M310.3 -21.2 H323.6 M310.3 7.8 H323.6"/>
<path class="t" d="M310.3 -21.2 Q307.6 -25 310.5 -29 M323.6 -21.2 Q326.2 -25 323.3 -29 M310.3 -21.2 Q306.8 -6.7 310.3 7.8 M323.6 -21.2 Q327 -6.7 323.6 7.8 M310.3 7.8 Q307 18 310.5 29.1 M323.6 7.8 Q326.8 18 323.3 29.1"/>
<path class="l" d="M326.7 -23.2 H334.2 V23.5 H326.7 M326.9 -20.5 H333.3 V20.9 H326.9 M334.2 -22.9 H340.5 M334.2 23.3 H340.5 M336.2 -22.9 V23.3"/>
</g>
<g transform="translate(0 1299.9)">
<path class="l" d="M588.2 -24.8 Q588.5 -28.3 590.6 -29.8 H604.4 Q606.8 -28.3 607.1 -24.3 V24.3 Q606.8 28.3 604.4 29.8 H590.6 Q588.5 28.3 588.2 24.8 Z" style="fill:#fff"/>
<path class="l" d="M590.4 -14.5 H604.6 M590.4 15.3 H604.6"/>
<path class="t" d="M590.4 -14.5 Q587.6 -22 590.6 -29.8 M604.6 -14.5 Q607.4 -22 604.4 -29.8 M590.4 -14.5 Q587.2 0.4 590.4 15.3 M604.6 -14.5 Q607.8 0.4 604.6 15.3 M590.4 15.3 Q587.6 22.5 590.6 29.8 M604.6 15.3 Q607.4 22.5 604.4 29.8"/>
<path class="l" d="M574.3 -23.4 H577.8 L579.6 -26.8 H588.2 M574.3 23 H576.6 L578.4 26.9 H588.2 M578.9 -23 V23 M581.6 -20.5 V20.9 M579.8 -22.5 L581.6 -20.5 H588.2 M579.8 23 L581.6 20.9 H588.2"/>
</g>
<g transform="translate(0 1366.2)">
<path class="l" d="M307.1 -24 Q307.4 -27.5 310.5 -29 H323.3 Q326.4 -27.5 326.7 -24 V24 Q326.4 27.6 323.3 29.1 H310.5 Q307.4 27.6 307.1 24 Z" style="fill:#fff"/>
<path class="l" d="M310.3 -21.2 H323.6 M310.3 7.8 H323.6"/>
<path class="t" d="M310.3 -21.2 Q307.6 -25 310.5 -29 M323.6 -21.2 Q326.2 -25 323.3 -29 M310.3 -21.2 Q306.8 -6.7 310.3 7.8 M323.6 -21.2 Q327 -6.7 323.6 7.8 M310.3 7.8 Q307 18 310.5 29.1 M323.6 7.8 Q326.8 18 323.3 29.1"/>
<path class="l" d="M326.7 -23.2 H334.2 V23.5 H326.7 M326.9 -20.5 H333.3 V20.9 H326.9 M334.2 -22.9 H340.5 M334.2 23.3 H340.5 M336.2 -22.9 V23.3"/>
</g>
<g transform="translate(0 1366.2)">
<path class="l" d="M588.2 -24.8 Q588.5 -28.3 590.6 -29.8 H604.4 Q606.8 -28.3 607.1 -24.3 V24.3 Q606.8 28.3 604.4 29.8 H590.6 Q588.5 28.3 588.2 24.8 Z" style="fill:#fff"/>
<path class="l" d="M590.4 -14.5 H604.6 M590.4 15.3 H604.6"/>
<path class="t" d="M590.4 -14.5 Q587.6 -22 590.6 -29.8 M604.6 -14.5 Q607.4 -22 604.4 -29.8 M590.4 -14.5 Q587.2 0.4 590.4 15.3 M604.6 -14.5 Q607.8 0.4 604.6 15.3 M590.4 15.3 Q587.6 22.5 590.6 29.8 M604.6 15.3 Q607.4 22.5 604.4 29.8"/>
<path class="l" d="M574.3 -23.4 H577.8 L579.6 -26.8 H588.2 M574.3 23 H576.6 L578.4 26.9 H588.2 M578.9 -23 V23 M581.6 -20.5 V20.9 M579.8 -22.5 L581.6 -20.5 H588.2 M579.8 23 L581.6 20.9 H588.2"/>
</g>
<path class="t" d="M575.2 1208.4 L617.6 1164.9 H639.5"/>
<path class="k" d="M574.6 1208.9 L583.2 1193.3 L590.3 1200.2 Z"/>
<path class="l" d="M611 1282.3 H652 M611 1316.2 H652 M646.2 1248.7 V1282.3 M646.2 1316.2 V1350.6"/>
<path class="k" d="M646.2 1282.3 L641.8 1264.3 L650.6 1264.3 Z"/>
<path class="k" d="M646.2 1316.2 L650.6 1334.2 L641.8 1334.2 Z"/>
<path class="l" d="M428.4 1033.0 L430.29999999999995 1030.4 H484.3 L486.2 1033.0 V1084.2 L484.3 1086.8 H430.29999999999995 L428.4 1084.2 Z" style="fill:#fff"/>
<path class="l" d="M458.1 1032.7 V1084.5"/>
<path class="t" d="M428.79999999999995 1033.0 Q443.45 1028.45 458.1 1033.0 M428.79999999999995 1084.2 Q443.45 1088.75 458.1 1084.2"/>
<path class="t" d="M458.1 1033.0 Q471.95000000000005 1028.45 485.8 1033.0 M458.1 1084.2 Q471.95000000000005 1088.75 485.8 1084.2"/>
<path d="M434.4 1086.8 H481.4 V1093.6 H435.9 Z" fill="#4a4a4a" stroke="#231f20" stroke-width=".8"/>
<path d="M434.9 1090.2 L481.4 1088.4 M435.4 1092.6 L481.4 1090.8" stroke="#ddd" stroke-width=".7" fill="none"/>
<path class="l" d="M436.8 1093.6 V1102 M478.4 1093.6 V1102 M436.8 1100.6 H478.4"/>
<path class="l" d="M430.6 1105 Q430.6 1102.3 433.0 1102.3 H481.90000000000003 Q484.3 1102.3 484.3 1105 V1118.6 Q484.3 1121 481.90000000000003 1121 H433.0 Q430.6 1121 430.6 1118.6 Z" style="fill:#fff"/>
<path class="l" d="M459.0 1104.6 V1118.8"/>
<path class="t" d="M431.40000000000003 1105 Q445.20000000000005 1101.6 459.0 1105 M431.40000000000003 1118.4 Q445.20000000000005 1122 459.0 1118.4"/>
<path class="t" d="M459.0 1105 Q471.25 1101.6 483.5 1105 M459.0 1118.4 Q471.25 1122 483.5 1118.4"/>
<path d="M433.6 1121 H481.4 V1122.4 H433.6 Z" fill="#666" stroke="#231f20" stroke-width=".7"/>
<path d="M433.8 1122.4 H481.4 L480.8 1127.2 H434.6 Z" fill="#fff" stroke="#231f20" stroke-width=".9"/>
<path d="M434.6 1127.2 L480.8 1126.2 L480.0 1130.2 H436.4 Z" fill="#4a4a4a" stroke="#231f20" stroke-width=".8"/>
<!-- side view -->
<path class="l" d="M785.7 1130.2 H925.8 V1469.0 H785.7 Z M785.7 1200.1 H925.8 M785.7 1267.2 H925.8 M785.7 1333.5 H925.8 M785.7 1399.4 H925.8"/>
<path class="l" d="M823.9 999.5 V1029 M857.9 999.5 V1029 M789.8 1005.5 H823.9 M857.9 1005.5 H891.7"/>
<path class="k" d="M823.9 1005.5 L805.9 1009.9 L805.9 1001.1 Z"/>
<path class="k" d="M857.9 1005.5 L875.9 1001.1 L875.9 1009.9 Z"/>
<path class="l" d="M809.2 1033.7 L814.6 1030.4 H869.3000000000001 L874.7 1033.7 V1083.5 L869.3000000000001 1086.8 H814.6 L809.2 1083.5 Z" style="fill:#fff"/>
<path class="l" d="M825.9 1033.4 V1083.8"/>
<path class="l" d="M859.5 1033.4 V1083.8"/>
<path class="t" d="M809.6 1033.7 Q817.75 1027.9250000000002 825.9 1033.7 M809.6 1083.5 Q817.75 1089.2749999999999 825.9 1083.5"/>
<path class="t" d="M825.9 1033.7 Q842.7 1027.9250000000002 859.5 1033.7 M825.9 1083.5 Q842.7 1089.2749999999999 859.5 1083.5"/>
<path class="t" d="M859.5 1033.7 Q866.9000000000001 1027.9250000000002 874.3000000000001 1033.7 M859.5 1083.5 Q866.9000000000001 1089.2749999999999 874.3000000000001 1083.5"/>
<path d="M818.4 1086.8 H865.4 V1093.6 H819.9 Z" fill="#4a4a4a" stroke="#231f20" stroke-width=".8"/>
<path d="M818.9 1090.2 L865.4 1088.4 M819.4 1092.6 L865.4 1090.8" stroke="#ddd" stroke-width=".7" fill="none"/>
<path class="l" d="M820.8 1093.6 V1102 M862.4 1093.6 V1102 M820.8 1100.6 H862.4"/>
<path class="l" d="M811.7 1105 Q811.7 1102.3 814.1 1102.3 H869.7 Q872.1 1102.3 872.1 1105 V1118.6 Q872.1 1121 869.7 1121 H814.1 Q811.7 1121 811.7 1118.6 Z" style="fill:#fff"/>
<path class="l" d="M827.7 1104.6 V1118.8"/>
<path class="l" d="M858.5 1104.6 V1118.8"/>
<path class="t" d="M812.5 1105 Q820.1 1101.6 827.7 1105 M812.5 1118.4 Q820.1 1122 827.7 1118.4"/>
<path class="t" d="M827.7 1105 Q843.1 1101.6 858.5 1105 M827.7 1118.4 Q843.1 1122 858.5 1118.4"/>
<path class="t" d="M858.5 1105 Q864.9000000000001 1101.6 871.3000000000001 1105 M858.5 1118.4 Q864.9000000000001 1122 871.3000000000001 1118.4"/>
<path d="M817.6 1121 H865.4 V1122.4 H817.6 Z" fill="#666" stroke="#231f20" stroke-width=".7"/>
<path d="M817.8 1122.4 H865.4 L864.8 1127.2 H818.6 Z" fill="#fff" stroke="#231f20" stroke-width=".9"/>
<path d="M818.6 1127.2 L864.8 1126.2 L864.0 1130.2 H820.4 Z" fill="#4a4a4a" stroke="#231f20" stroke-width=".8"/>
<path class="t" d="M866.2 1127.6 L909 1085.5 H931"/>
<path class="k" d="M865.3 1128.5 L873.5 1112.4 L880.9 1119.8 Z"/>
<polygon class="t" points="840.6,1233.5 827.0,1257.0 800.0,1257.0 786.4,1233.5 799.9,1210.0 827.0,1210.0"/>
<circle class="l" cx="813.5" cy="1233.5" r="22.2"/>
<polygon class="t" points="921.2,1241.6 900.1,1261.9 871.9,1253.9 864.8,1225.4 885.9,1205.1 914.1,1213.1"/>
<circle class="l" cx="893" cy="1233.5" r="24.9"/>
<circle class="l" cx="893" cy="1233.5" r="16.1"/>
<circle class="l" cx="893" cy="1233.5" r="14.3"/>
<circle class="l" cx="893" cy="1233.5" r="4.5"/>
<polygon class="t" points="840.6,1300.0 827.0,1323.5 800.0,1323.5 786.4,1300.0 799.9,1276.5 827.0,1276.5"/>
<circle class="l" cx="813.5" cy="1300.0" r="22.2"/>
<polygon class="t" points="921.2,1308.1 900.1,1328.4 871.9,1320.4 864.8,1291.9 885.9,1271.6 914.1,1279.6"/>
<circle class="l" cx="893" cy="1300.0" r="24.9"/>
<circle class="l" cx="893" cy="1300.0" r="16.1"/>
<circle class="l" cx="893" cy="1300.0" r="14.3"/>
<circle class="l" cx="893" cy="1300.0" r="4.5"/>
<polygon class="t" points="840.6,1366.3 827.0,1389.8 800.0,1389.8 786.4,1366.3 799.9,1342.8 827.0,1342.8"/>
<circle class="l" cx="813.5" cy="1366.3" r="22.2"/>
<polygon class="t" points="921.2,1374.4 900.1,1394.7 871.9,1386.7 864.8,1358.2 885.9,1337.9 914.1,1345.9"/>
<circle class="l" cx="893" cy="1366.3" r="24.9"/>
<circle class="l" cx="893" cy="1366.3" r="16.1"/>
<circle class="l" cx="893" cy="1366.3" r="14.3"/>
<circle class="l" cx="893" cy="1366.3" r="4.5"/>
<circle class="l" cx="827.7" cy="1413.5" r="4.4"/>
<path class="l" d="M785.7 1472.9 V1516.5 M925.8 1472.9 V1516.5 M785.7 1509.6 H925.8"/>
<path class="k" d="M785.7 1509.6 L803.7 1505.2 L803.7 1514.0 Z"/>
<path class="k" d="M925.8 1509.6 L907.8 1514.0 L907.8 1505.2 Z"/>
</svg>
</body></html>
